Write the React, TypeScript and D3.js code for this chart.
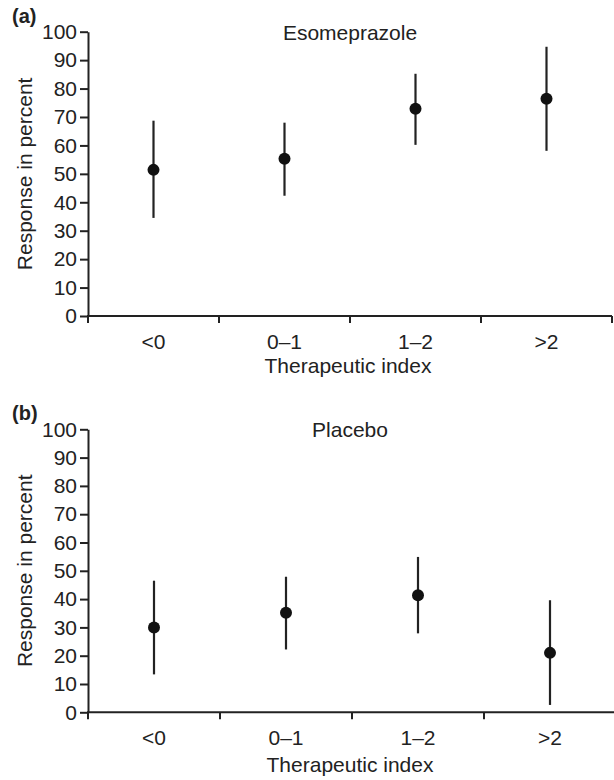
import React, { useRef, useEffect } from 'react';
import * as d3 from 'd3';

const categories = ["<0", "0–1", "1–2", ">2"];
const yTickValues = [0, 10, 20, 30, 40, 50, 60, 70, 80, 90, 100];

// Esomeprazole: point estimate with confidence interval
const esoMean = [51.4, 55.3, 72.9, 76.4];
const esoLow = [34.5, 42.3, 60.2, 58.1];
const esoHigh = [68.7, 68.0, 85.2, 94.7];

// Placebo
const plaMean = [30.0, 35.2, 41.4, 21.0];
const plaLow = [13.4, 22.2, 27.9, 2.6];
const plaHigh = [46.5, 47.9, 54.9, 39.6];

const W = 614;
const H = 780;
const FONT = "'Liberation Sans', Arial, Helvetica, sans-serif";
const INK = "#222";
const FS = "21px";

const panels = [
  { tag: "(a)", title: "Esomeprazole", mean: esoMean, low: esoLow, high: esoHigh,
    top: 31.7, bottom: 316, left: 88, right: 612, labelGap: 33, titleGap: 57 },
  { tag: "(b)", title: "Placebo", mean: plaMean, low: plaLow, high: plaHigh,
    top: 429.3, bottom: 712.3, left: 88, right: 616, labelGap: 33, titleGap: 60 },
];

const App = () => {
  const svgRef = useRef<SVGSVGElement>(null);

  useEffect(() => {
    const svg = d3.select(svgRef.current);
    svg.selectAll('*').remove();

    panels.forEach(p => {
      const g = svg.append("g");

      const x = d3.scaleBand<string>()
        .domain(categories)
        .range([p.left, p.right])
        .padding(0);

      const y = d3.scaleLinear()
        .domain([0, 100])
        .range([p.bottom, p.top]);

      // y axis
      const yAxis = d3.axisLeft(y)
        .tickValues(yTickValues)
        .tickSize(8)
        .tickPadding(3)
        .tickSizeOuter(0);

      const ya = g.append("g")
        .attr("transform", `translate(${p.left},0)`)
        .call(yAxis);
      ya.select(".domain").attr("stroke", INK).attr("stroke-width", 2);
      ya.selectAll(".tick line").attr("stroke", INK).attr("stroke-width", 2);
      ya.selectAll(".tick text")
        .attr("fill", INK)
        .style("font-family", FONT)
        .style("font-size", FS);

      // x axis line
      g.append("line")
        .attr("x1", p.left - 1).attr("x2", p.right)
        .attr("y1", y(0)).attr("y2", y(0))
        .attr("stroke", INK).attr("stroke-width", 2);

      // x ticks at band boundaries
      const bounds = categories.map(c => x(c) as number).concat([p.right]);
      g.selectAll(".xb")
        .data(bounds)
        .enter()
        .append("line")
        .attr("x1", d => d).attr("x2", d => d)
        .attr("y1", y(0)).attr("y2", y(0) + 7)
        .attr("stroke", INK).attr("stroke-width", 2);

      // x labels
      g.selectAll(".xl")
        .data(categories)
        .enter()
        .append("text")
        .attr("x", d => (x(d) as number) + x.bandwidth() / 2)
        .attr("y", y(0) + p.labelGap)
        .attr("text-anchor", "middle")
        .attr("fill", INK)
        .style("font-family", FONT)
        .style("font-size", FS)
        .text(d => d);

      g.append("text")
        .attr("x", (p.left + p.right) / 2 - 2)
        .attr("y", y(0) + p.titleGap)
        .attr("text-anchor", "middle")
        .attr("fill", INK)
        .style("font-family", FONT)
        .style("font-size", FS)
        .text("Therapeutic index");

      g.append("text")
        .attr("transform", `translate(32,${(p.top + p.bottom) / 2}) rotate(-90)`)
        .attr("text-anchor", "middle")
        .attr("fill", INK)
        .style("font-family", FONT)
        .style("font-size", FS)
        .text("Response in percent");

      // title and panel tag
      g.append("text")
        .attr("x", 350)
        .attr("y", p.top + 8)
        .attr("text-anchor", "middle")
        .attr("fill", INK)
        .style("font-family", FONT)
        .style("font-size", FS)
        .text(p.title);

      g.append("text")
        .attr("x", 12)
        .attr("y", p.top - 9)
        .attr("fill", INK)
        .style("font-family", FONT)
        .style("font-size", "20px")
        .style("font-weight", "bold")
        .text(p.tag);

      // error bars
      g.selectAll(".err")
        .data(categories)
        .enter()
        .append("line")
        .attr("x1", d => (x(d) as number) + x.bandwidth() / 2)
        .attr("x2", d => (x(d) as number) + x.bandwidth() / 2)
        .attr("y1", (d, i) => y(p.low[i]))
        .attr("y2", (d, i) => y(p.high[i]))
        .attr("stroke", INK)
        .attr("stroke-width", 2.2);

      // points
      g.selectAll(".pt")
        .data(categories)
        .enter()
        .append("circle")
        .attr("cx", d => (x(d) as number) + x.bandwidth() / 2)
        .attr("cy", (d, i) => y(p.mean[i]))
        .attr("r", 6)
        .attr("fill", "#111");
    });
  }, []);

  return (
    <svg ref={svgRef} width={W} height={H}
      style={{ position: "absolute", left: 0, top: 0, background: "#fff" }}></svg>
  );
};

export default App;
